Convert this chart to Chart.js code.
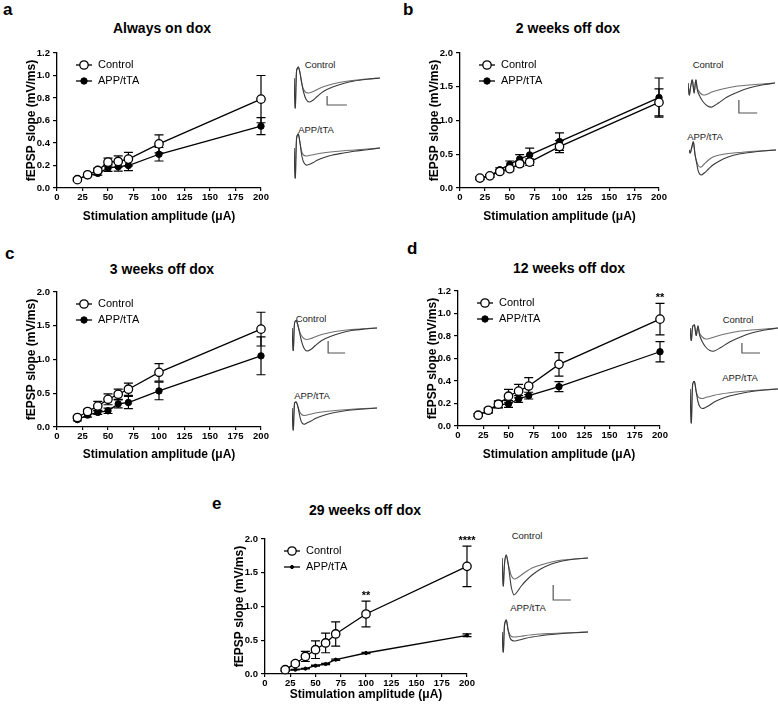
<!DOCTYPE html>
<html>
<head>
<meta charset="utf-8">
<script src="https://cdn.jsdelivr.net/npm/chart.js@4.4.1/dist/chart.umd.min.js"></script>
<style>
  body { margin: 0; background: #fff; }
  #fig { position: relative; width: 778px; height: 710px; overflow: hidden; font-family: "Liberation Sans", Arial, sans-serif; color: #000; }
  #fig canvas { position: absolute; }
  .lbl { position: absolute; font-weight: bold; font-size: 17px; line-height: 17px; }
  .ttl { position: absolute; font-weight: bold; font-size: 14px; line-height: 14px; transform: translateX(-50%); white-space: nowrap; }
  .tr { position: absolute; font-size: 9.5px; line-height: 10px; transform: translate(-50%, -50%); white-space: nowrap; color: #222; }
</style>
</head>
<body>
<div id="fig">
  <div class="lbl" style="left:3px;top:1px">a</div>
  <div class="lbl" style="left:403px;top:1px">b</div>
  <div class="lbl" style="left:5px;top:245px">c</div>
  <div class="lbl" style="left:407px;top:240px">d</div>
  <div class="lbl" style="left:212px;top:495px">e</div>

  <div class="ttl" style="left:162px;top:21px">Always on dox</div>
  <div class="ttl" style="left:568px;top:21px">2 weeks off dox</div>
  <div class="ttl" style="left:162px;top:262px">3 weeks off dox</div>
  <div class="ttl" style="left:569px;top:261px">12 weeks off dox</div>
  <div class="ttl" style="left:365px;top:503px">29 weeks off dox</div>

  <div class="tr" style="left:320px;top:65px">Control</div>
  <div class="tr" style="left:316px;top:130px">APP/tTA</div>
  <div class="tr" style="left:708px;top:65px">Control</div>
  <div class="tr" style="left:705px;top:137px">APP/tTA</div>
  <div class="tr" style="left:311px;top:319px">Control</div>
  <div class="tr" style="left:312px;top:396px">APP/tTA</div>
  <div class="tr" style="left:738px;top:320px">Control</div>
  <div class="tr" style="left:740px;top:378px">APP/tTA</div>
  <div class="tr" style="left:527px;top:536px">Control</div>
  <div class="tr" style="left:528px;top:608px">APP/tTA</div>
</div>
<script>
// stimulation amplitudes (uA)
const stimX = [20, 30, 40, 50, 60, 70, 100, 200];

// a - always on dox
const aControl    = [0.074, 0.118, 0.156, 0.23, 0.236, 0.257, 0.392, 0.79];
const aControlErr = [0.01, 0.01, 0.02, 0.035, 0.05, 0.06, 0.08, 0.21];
const aApp        = [0.08, 0.11, 0.13, 0.177, 0.19, 0.20, 0.30, 0.55];
const aAppErr     = [0.01, 0.01, 0.015, 0.03, 0.04, 0.045, 0.06, 0.075];

// b - 2 weeks off dox
const bControl    = [0.147, 0.18, 0.245, 0.285, 0.36, 0.383, 0.614, 1.268];
const bControlErr = [0.02, 0.02, 0.03, 0.03, 0.04, 0.05, 0.09, 0.2];
const bApp        = [0.14, 0.18, 0.27, 0.35, 0.43, 0.49, 0.688, 1.34];
const bAppErr     = [0.02, 0.02, 0.03, 0.05, 0.065, 0.1, 0.13, 0.29];

// c - 3 weeks off dox
const cControl    = [0.14, 0.23, 0.31, 0.41, 0.485, 0.56, 0.81, 1.45];
const cControlErr = [0.02, 0.03, 0.07, 0.08, 0.075, 0.09, 0.13, 0.25];
const cApp        = [0.11, 0.176, 0.216, 0.24, 0.343, 0.363, 0.534, 1.054];
const cAppErr     = [0.02, 0.03, 0.03, 0.04, 0.06, 0.09, 0.13, 0.28];

// d - 12 weeks off dox
const dControl    = [0.096, 0.14, 0.194, 0.265, 0.31, 0.355, 0.548, 0.95];
const dControlErr = [0.01, 0.02, 0.03, 0.06, 0.06, 0.075, 0.105, 0.14];
const dApp        = [0.10, 0.135, 0.19, 0.195, 0.24, 0.27, 0.35, 0.66];
const dAppErr     = [0.01, 0.02, 0.03, 0.03, 0.03, 0.03, 0.045, 0.09];
const dStarX      = [200];
const dStarText   = ['**'];

// e - 29 weeks off dox
const eControl    = [0.064, 0.153, 0.26, 0.36, 0.46, 0.593, 0.889, 1.595];
const eControlErr = [0.02, 0.03, 0.075, 0.13, 0.145, 0.18, 0.19, 0.30];
const eApp        = [0.05, 0.064, 0.08, 0.123, 0.148, 0.212, 0.311, 0.573];
const eAppErr     = [0.005, 0.005, 0.005, 0.008, 0.008, 0.01, 0.01, 0.02];
const eStarX      = [100, 200];
const eStarText   = ['**', '****'];

// example fEPSP traces (ms / mV, baseline 0)
const traceT = [0, 0.3, 0.6, 1, 1.4, 1.8, 2.2, 2.8, 3.5, 4.5, 5.5, 7, 9, 11.5, 14, 17, 20];

const aCtrlHigh = [0, -1.2, 0.3, 0.44, 0.2, -0.2, -0.55, -0.85, -0.96, -0.88, -0.72, -0.52, -0.36, -0.22, -0.12, -0.05, 0];
const aCtrlLow  = [0, -1.2, 0.3, 0.44, 0.2, -0.2, -0.45, -0.58, -0.6, -0.54, -0.45, -0.34, -0.24, -0.15, -0.09, -0.04, 0];
const aAppHigh  = [0, -1.2, 0.4, 0.56, 0.2, -0.3, -0.55, -0.68, -0.66, -0.58, -0.48, -0.38, -0.28, -0.2, -0.13, -0.07, 0];
const aAppLow   = [0, -1.2, 0.4, 0.56, 0.2, -0.15, -0.28, -0.32, -0.3, -0.27, -0.23, -0.19, -0.15, -0.11, -0.08, -0.04, 0];
const aBarX = [7.7, 7.7, 12.3];
const aBarY = [-0.72, -1.08, -1.08];

const bCtrlHigh = [0, -0.48, -0.16, 0.12, -0.4, 0.12, -0.32, -0.56, -0.76, -0.92, -0.96, -0.8, -0.56, -0.36, -0.2, -0.08, 0];
const bCtrlLow  = [0, -0.48, -0.16, 0.12, -0.4, 0.12, -0.24, -0.4, -0.48, -0.44, -0.36, -0.28, -0.2, -0.12, -0.08, -0.04, 0];
const bAppHigh  = [0, -0.12, 0.08, 0.32, -0.2, -0.56, -0.88, -1.0, -0.92, -0.76, -0.6, -0.44, -0.28, -0.16, -0.1, -0.04, 0];
const bAppLow   = [0, -0.12, 0.08, 0.32, -0.2, -0.48, -0.64, -0.68, -0.56, -0.4, -0.28, -0.2, -0.14, -0.1, -0.06, -0.03, 0];
const bBarX = [11.7, 11.7, 15.9];
const bBarY = [-0.68, -1.2, -1.2];

const cCtrlHigh = [0, -0.9, 0.2, 0.3, 0.1, -0.2, -0.5, -0.8, -0.92, -0.85, -0.7, -0.5, -0.34, -0.2, -0.1, -0.04, 0];
const cCtrlLow  = [0, -0.9, 0.2, 0.3, 0.1, -0.15, -0.3, -0.42, -0.46, -0.42, -0.35, -0.26, -0.18, -0.11, -0.06, -0.03, 0];
const cAppHigh  = [0, -0.88, 0.2, 0.24, 0.05, -0.3, -0.55, -0.65, -0.6, -0.52, -0.42, -0.32, -0.22, -0.14, -0.08, -0.04, 0];
const cAppLow   = [0, -0.88, 0.2, 0.24, 0.05, -0.15, -0.25, -0.3, -0.28, -0.24, -0.2, -0.16, -0.12, -0.08, -0.05, -0.02, 0];
const cBarX = [8.5, 8.5, 12.5];
const cBarY = [-0.52, -1.0, -1.0];

const dCtrlHigh = [0, -0.5, 0.05, 0.12, -0.3, 0.08, -0.3, -0.55, -0.75, -0.9, -0.92, -0.78, -0.56, -0.36, -0.2, -0.08, 0];
const dCtrlLow  = [0, -0.5, 0.05, 0.12, -0.3, 0.08, -0.22, -0.36, -0.44, -0.42, -0.36, -0.28, -0.2, -0.12, -0.08, -0.04, 0];
const dAppHigh  = [0, -1.36, 0.2, 0.3, -0.1, -0.5, -0.7, -0.78, -0.74, -0.64, -0.52, -0.4, -0.28, -0.18, -0.1, -0.04, 0];
const dAppLow   = [0, -1.36, 0.2, 0.3, -0.1, -0.3, -0.36, -0.38, -0.34, -0.3, -0.25, -0.2, -0.15, -0.1, -0.06, -0.03, 0];
const dBarX = [11.8, 11.8, 15.9];
const dBarY = [-0.6, -1.0, -1.0];

const eCtrlHigh = [0, -1.12, -0.2, 0.12, -0.2, -0.72, -1.2, -1.48, -1.36, -1.12, -0.92, -0.68, -0.44, -0.24, -0.12, -0.04, 0];
const eCtrlLow  = [0, -1.12, -0.2, 0.12, -0.2, -0.48, -0.72, -0.84, -0.8, -0.68, -0.56, -0.4, -0.28, -0.16, -0.08, -0.04, 0];
const eAppHigh  = [0, -0.8, 0.3, 0.48, 0.1, -0.2, -0.32, -0.36, -0.34, -0.3, -0.25, -0.2, -0.15, -0.1, -0.06, -0.03, 0];
const eAppLow   = [0, -0.8, 0.3, 0.48, 0.1, -0.1, -0.18, -0.2, -0.19, -0.17, -0.14, -0.11, -0.08, -0.06, -0.04, -0.02, 0];
const eBarX = [11.9, 11.9, 16.0];
const eBarY = [-1.08, -1.68, -1.68];

const FONT = '"Liberation Sans", Arial, sans-serif';
const fig = document.getElementById('fig');

function addCanvas(left, top, width, height) {
  const c = document.createElement('canvas');
  c.width = width; c.height = height;
  c.style.left = left + 'px'; c.style.top = top + 'px';
  c.style.width = width + 'px'; c.style.height = height + 'px';
  fig.appendChild(c);
  return c;
}

// vertical SEM bars, drawn under the points
const errorBars = {
  id: 'errorBars',
  beforeDatasetsDraw(chart) {
    const ctx = chart.ctx, ys = chart.scales.y;
    chart.data.datasets.forEach((ds, i) => {
      if (!ds.errors) return;
      const meta = chart.getDatasetMeta(i);
      ctx.save();
      ctx.strokeStyle = '#000';
      ctx.lineWidth = 1.2;
      meta.data.forEach((pt, j) => {
        const v = ds.data[j].y, e = ds.errors[j];
        const top = ys.getPixelForValue(v + e), bot = ys.getPixelForValue(v - e);
        ctx.beginPath();
        ctx.moveTo(pt.x, top); ctx.lineTo(pt.x, bot);
        ctx.moveTo(pt.x - 4.5, top); ctx.lineTo(pt.x + 4.5, top);
        ctx.moveTo(pt.x - 4.5, bot); ctx.lineTo(pt.x + 4.5, bot);
        ctx.stroke();
      });
      ctx.restore();
    });
  }
};

// significance stars above the control error bar
const stars = {
  id: 'stars',
  afterDatasetsDraw(chart, args, opts) {
    if (!opts.x || !opts.x.length) return;
    const ctx = chart.ctx, ys = chart.scales.y, xs = chart.scales.x;
    const ds = chart.data.datasets[0];
    ctx.save();
    ctx.fillStyle = '#000';
    ctx.font = 'bold 11px ' + FONT;
    ctx.textAlign = 'center';
    ctx.textBaseline = 'alphabetic';
    opts.x.forEach((xv, k) => {
      const j = stimX.indexOf(xv);
      const top = ys.getPixelForValue(ds.data[j].y + ds.errors[j]);
      ctx.fillText(opts.text[k], xs.getPixelForValue(xv), top - 2);
    });
    ctx.restore();
  }
};

// legend inside the plot, upper left
const insideLegend = {
  id: 'insideLegend',
  afterDraw(chart) {
    const { ctx, chartArea } = chart;
    chart.data.datasets.forEach((ds, i) => {
      const y = chartArea.top + 12 + i * 16;
      const cx = chartArea.left + 27;
      ctx.save();
      ctx.strokeStyle = '#000';
      ctx.lineWidth = 1.3;
      ctx.beginPath(); ctx.moveTo(cx - 8, y); ctx.lineTo(cx + 8, y); ctx.stroke();
      ctx.beginPath(); ctx.arc(cx, y, ds.pointRadius, 0, Math.PI * 2);
      ctx.fillStyle = ds.pointBackgroundColor; ctx.fill();
      ctx.lineWidth = ds.pointBorderWidth; ctx.stroke();
      ctx.fillStyle = '#000';
      ctx.font = '11px ' + FONT;
      ctx.textAlign = 'left';
      ctx.textBaseline = 'middle';
      ctx.fillText(ds.label, chartArea.left + 41, y);
      ctx.restore();
    });
  }
};

function pts(vals) { return stimX.map((x, i) => ({ x: x, y: vals[i] })); }

function makePanel(p) {
  const L = p.axisX - 45, T = p.top - 10;
  const W = 45 + (p.right - p.axisX) + 12;
  const xh = Math.round(p.titleY - p.bottom + 8.2);
  const H = 10 + (p.bottom - p.top) + xh;
  const canvas = addCanvas(L, T, W, H);
  const tickFont = { family: FONT, size: 9.5, weight: 'bold' };
  const titleFont = { family: FONT, size: 12, weight: 'bold' };
  new Chart(canvas, {
    type: 'line',
    data: {
      datasets: [
        { label: 'Control', data: pts(p.control), errors: p.controlErr, borderColor: '#000', borderWidth: 1.3,
          pointRadius: 4.2, pointBackgroundColor: '#fff', pointBorderColor: '#000', pointBorderWidth: 1.3, clip: false },
        { label: 'APP/tTA', data: pts(p.app), errors: p.appErr, borderColor: '#000', borderWidth: 1.3,
          pointRadius: p.appRadius, pointBackgroundColor: '#000', pointBorderColor: '#000', pointBorderWidth: 1, clip: false }
      ]
    },
    options: {
      responsive: false,
      animation: false,
      events: [],
      layout: { padding: { top: 10, right: 12, left: 0, bottom: 0 } },
      plugins: {
        legend: { display: false },
        tooltip: { enabled: false },
        stars: { x: p.starX || [], text: p.starText || [] }
      },
      scales: {
        x: {
          type: 'linear', min: 0, max: 200,
          afterFit(s) { s.height = xh; },
          ticks: { stepSize: 25, autoSkip: false, maxRotation: 0, padding: 1, color: '#000', font: tickFont },
          grid: { drawOnChartArea: false, drawTicks: true, tickLength: 3, color: '#000', lineWidth: 1.2 },
          border: { display: true, color: '#000', width: 1.3 },
          title: { display: true, text: 'Stimulation amplitude (μA)', color: '#000', font: titleFont, padding: { top: 0, bottom: 1 } }
        },
        y: {
          type: 'linear', min: 0, max: p.yMax,
          afterFit(s) { s.width = 45; },
          ticks: { stepSize: p.yStep, padding: 3, color: '#000', font: tickFont, callback: v => v.toFixed(1) },
          grid: { drawOnChartArea: false, drawTicks: true, tickLength: 4, color: '#000', lineWidth: 1.2 },
          border: { display: true, color: '#000', width: 1.3 },
          title: { display: true, text: 'fEPSP slope (mV/ms)', color: '#000', font: titleFont, padding: { top: 12, bottom: 0 } }
        }
      }
    },
    plugins: [errorBars, stars, insideLegend]
  });
}

function tracePoints(vals) { return traceT.map((t, i) => ({ x: t, y: vals[i] })); }

function makeTrace(left, top, width, height, yMin, yMax, high, low, barX, barY) {
  const canvas = addCanvas(left, top, width, height);
  const datasets = [
    { data: tracePoints(high), borderColor: '#3a3a3a', borderWidth: 1.1, pointRadius: 0, tension: 0.3, clip: false },
    { data: tracePoints(low), borderColor: '#707070', borderWidth: 1.1, pointRadius: 0, tension: 0.3, clip: false }
  ];
  if (barX) {
    datasets.push({ data: barX.map((x, i) => ({ x: x, y: barY[i] })), borderColor: '#555', borderWidth: 1.2,
      pointRadius: 0, tension: 0, clip: false });
  }
  new Chart(canvas, {
    type: 'line',
    data: { datasets },
    options: {
      responsive: false, animation: false, events: [],
      layout: { padding: 0 },
      plugins: { legend: { display: false }, tooltip: { enabled: false } },
      scales: {
        x: { type: 'linear', display: false, min: 0, max: 20 },
        y: { type: 'linear', display: false, min: yMin, max: yMax }
      }
    }
  });
}

makePanel({ axisX: 57, right: 261, top: 53, bottom: 188, titleY: 217, yMax: 1.2, yStep: 0.2,
  control: aControl, controlErr: aControlErr, app: aApp, appErr: aAppErr, appRadius: 3.2 });
makePanel({ axisX: 460, right: 659, top: 53, bottom: 188, titleY: 217, yMax: 2.0, yStep: 0.5,
  control: bControl, controlErr: bControlErr, app: bApp, appErr: bAppErr, appRadius: 3.2 });
makePanel({ axisX: 57, right: 261, top: 292, bottom: 427, titleY: 455, yMax: 2.0, yStep: 0.5,
  control: cControl, controlErr: cControlErr, app: cApp, appErr: cAppErr, appRadius: 3.2 });
makePanel({ axisX: 458, right: 660, top: 291, bottom: 426, titleY: 455, yMax: 1.2, yStep: 0.2,
  control: dControl, controlErr: dControlErr, app: dApp, appErr: dAppErr, appRadius: 3.2,
  starX: dStarX, starText: dStarText });
makePanel({ axisX: 265, right: 467, top: 539, bottom: 674, titleY: 695, yMax: 2.0, yStep: 0.5,
  control: eControl, controlErr: eControlErr, app: eApp, appErr: eAppErr, appRadius: 1.6,
  starX: eStarX, starText: eStarText });

makeTrace(294, 64, 86, 46, -1.28, 0.56, aCtrlHigh, aCtrlLow, aBarX, aBarY);
makeTrace(294, 132, 86, 48, -1.28, 0.64, aAppHigh, aAppLow);
makeTrace(688, 76, 87, 39, -1.28, 0.28, bCtrlHigh, bCtrlLow, bBarX, bBarY);
makeTrace(689, 140, 87, 38, -1.12, 0.4, bAppHigh, bAppLow);
makeTrace(292, 318, 85, 38, -1.12, 0.4, cCtrlHigh, cCtrlLow, cBarX, cBarY);
makeTrace(292, 399, 85, 34, -1.0, 0.36, cAppHigh, cAppLow);
makeTrace(690, 318, 88, 38, -1.12, 0.4, dCtrlHigh, dCtrlLow, dBarX, dBarY);
makeTrace(690, 380, 88, 46, -1.48, 0.36, dAppHigh, dAppLow);
makeTrace(502, 550, 86, 53, -1.8, 0.32, eCtrlHigh, eCtrlLow, eBarX, eBarY);
makeTrace(502, 618, 86, 36, -0.88, 0.56, eAppHigh, eAppLow);
</script>
</body>
</html>
